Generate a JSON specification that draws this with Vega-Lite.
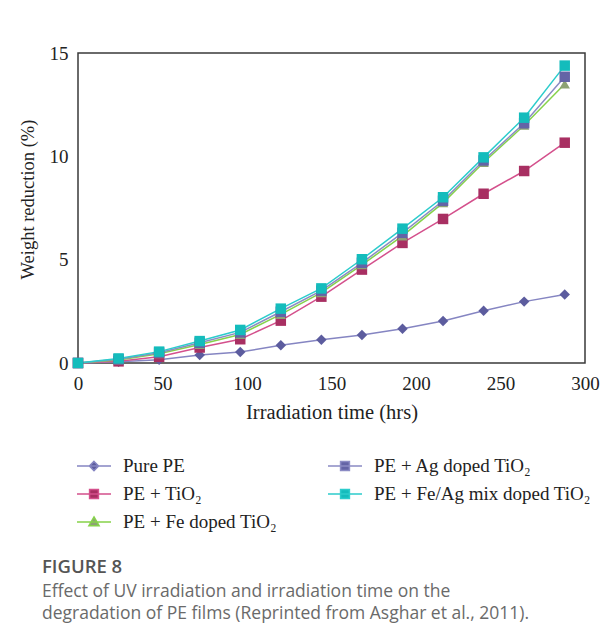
{
  "$schema": "https://vega.github.io/schema/vega-lite/v6.json",
  "width": 507,
  "height": 310,
  "autosize": {"type": "none"},
  "padding": {"left": 78, "top": 53, "right": 29, "bottom": 280},
  "background": "white",
  "config": {
    "view": {"stroke": "#3a3a3a", "strokeWidth": 1.5},
    "font": "Liberation Serif",
    "legend": {
      "orient": "none",
      "legendX": -2,
      "legendY": 395,
      "columns": 2,
      "padding": 0,
      "symbolSize": 1156,
      "symbolStrokeWidth": 1.5,
      "symbolOpacity": 1,
      "labelFont": "Liberation Serif",
      "labelFontSize": 19,
      "labelColor": "#222222",
      "labelOffset": 11,
      "labelLimit": 400,
      "columnPadding": 48,
      "rowPadding": -2
    }
  },
  "title": {
    "text": "FIGURE 8",
    "subtitle": ["Effect of UV irradiation and irradiation time on the", "degradation of PE films (Reprinted from Asghar et al., 2011)."],
    "orient": "bottom",
    "anchor": "start",
    "frame": "bounds",
    "offset": 26,
    "dx": 24,
    "font": "Open Sans",
    "fontSize": 18.5,
    "fontWeight": 600,
    "color": "#555555",
    "subtitleFont": "Open Sans",
    "subtitleFontSize": 17.5,
    "subtitleColor": "#6a6a6a",
    "subtitleLineHeight": 22.5,
    "subtitlePadding": 6
  },
  "data": {
    "values": [
      {"series": "Pure PE", "t": 0, "w": 0},
      {"series": "Pure PE", "t": 24, "w": 0.06},
      {"series": "Pure PE", "t": 48, "w": 0.16},
      {"series": "Pure PE", "t": 72, "w": 0.39},
      {"series": "Pure PE", "t": 96, "w": 0.53},
      {"series": "Pure PE", "t": 120, "w": 0.86},
      {"series": "Pure PE", "t": 144, "w": 1.13},
      {"series": "Pure PE", "t": 168, "w": 1.35},
      {"series": "Pure PE", "t": 192, "w": 1.66},
      {"series": "Pure PE", "t": 216, "w": 2.03},
      {"series": "Pure PE", "t": 240, "w": 2.53},
      {"series": "Pure PE", "t": 264, "w": 2.97},
      {"series": "Pure PE", "t": 288, "w": 3.32},
      {"series": "PE + TiO₂", "t": 0, "w": 0},
      {"series": "PE + TiO₂", "t": 24, "w": 0.08},
      {"series": "PE + TiO₂", "t": 48, "w": 0.3},
      {"series": "PE + TiO₂", "t": 72, "w": 0.75},
      {"series": "PE + TiO₂", "t": 96, "w": 1.15},
      {"series": "PE + TiO₂", "t": 120, "w": 2.05},
      {"series": "PE + TiO₂", "t": 144, "w": 3.21},
      {"series": "PE + TiO₂", "t": 168, "w": 4.52},
      {"series": "PE + TiO₂", "t": 192, "w": 5.81},
      {"series": "PE + TiO₂", "t": 216, "w": 6.97},
      {"series": "PE + TiO₂", "t": 240, "w": 8.19},
      {"series": "PE + TiO₂", "t": 264, "w": 9.29},
      {"series": "PE + TiO₂", "t": 288, "w": 10.66},
      {"series": "PE + Fe doped TiO₂", "t": 0, "w": 0},
      {"series": "PE + Fe doped TiO₂", "t": 24, "w": 0.15},
      {"series": "PE + Fe doped TiO₂", "t": 48, "w": 0.45},
      {"series": "PE + Fe doped TiO₂", "t": 72, "w": 0.9},
      {"series": "PE + Fe doped TiO₂", "t": 96, "w": 1.38},
      {"series": "PE + Fe doped TiO₂", "t": 120, "w": 2.35},
      {"series": "PE + Fe doped TiO₂", "t": 144, "w": 3.4},
      {"series": "PE + Fe doped TiO₂", "t": 168, "w": 4.75},
      {"series": "PE + Fe doped TiO₂", "t": 192, "w": 6.15},
      {"series": "PE + Fe doped TiO₂", "t": 216, "w": 7.75},
      {"series": "PE + Fe doped TiO₂", "t": 240, "w": 9.7},
      {"series": "PE + Fe doped TiO₂", "t": 264, "w": 11.5},
      {"series": "PE + Fe doped TiO₂", "t": 288, "w": 13.5},
      {"series": "PE + Ag doped TiO₂", "t": 0, "w": 0},
      {"series": "PE + Ag doped TiO₂", "t": 24, "w": 0.18},
      {"series": "PE + Ag doped TiO₂", "t": 48, "w": 0.5},
      {"series": "PE + Ag doped TiO₂", "t": 72, "w": 0.98},
      {"series": "PE + Ag doped TiO₂", "t": 96, "w": 1.48},
      {"series": "PE + Ag doped TiO₂", "t": 120, "w": 2.48},
      {"series": "PE + Ag doped TiO₂", "t": 144, "w": 3.5},
      {"series": "PE + Ag doped TiO₂", "t": 168, "w": 4.85},
      {"series": "PE + Ag doped TiO₂", "t": 192, "w": 6.3},
      {"series": "PE + Ag doped TiO₂", "t": 216, "w": 7.85},
      {"series": "PE + Ag doped TiO₂", "t": 240, "w": 9.8},
      {"series": "PE + Ag doped TiO₂", "t": 264, "w": 11.6},
      {"series": "PE + Ag doped TiO₂", "t": 288, "w": 13.85},
      {"series": "PE + Fe/Ag mix doped TiO₂", "t": 0, "w": 0},
      {"series": "PE + Fe/Ag mix doped TiO₂", "t": 24, "w": 0.22},
      {"series": "PE + Fe/Ag mix doped TiO₂", "t": 48, "w": 0.55},
      {"series": "PE + Fe/Ag mix doped TiO₂", "t": 72, "w": 1.06},
      {"series": "PE + Fe/Ag mix doped TiO₂", "t": 96, "w": 1.6},
      {"series": "PE + Fe/Ag mix doped TiO₂", "t": 120, "w": 2.63},
      {"series": "PE + Fe/Ag mix doped TiO₂", "t": 144, "w": 3.61},
      {"series": "PE + Fe/Ag mix doped TiO₂", "t": 168, "w": 5.02},
      {"series": "PE + Fe/Ag mix doped TiO₂", "t": 192, "w": 6.5},
      {"series": "PE + Fe/Ag mix doped TiO₂", "t": 216, "w": 8.02},
      {"series": "PE + Fe/Ag mix doped TiO₂", "t": 240, "w": 9.95},
      {"series": "PE + Fe/Ag mix doped TiO₂", "t": 264, "w": 11.87},
      {"series": "PE + Fe/Ag mix doped TiO₂", "t": 288, "w": 14.39}
    ]
  },
  "encoding": {
    "x": {
      "field": "t", "type": "quantitative",
      "scale": {"domain": [0, 300], "nice": false, "zero": false},
      "axis": {
        "title": "Irradiation time (hrs)",
        "values": [0, 50, 100, 150, 200, 250, 300],
        "ticks": false, "domain": false, "grid": false,
        "labelFlush": false, "labelOverlap": false,
        "labelFont": "Liberation Serif", "labelFontSize": 19, "labelColor": "#222222",
        "labelPadding": 11,
        "titleFont": "Liberation Serif", "titleFontSize": 20.5, "titleFontWeight": "normal", "titleColor": "#222222",
        "titlePadding": 9
      }
    },
    "y": {
      "field": "w", "type": "quantitative",
      "scale": {"domain": [0, 15], "nice": false},
      "axis": {
        "title": "Weight reduction (%)",
        "values": [0, 5, 10, 15],
        "ticks": false, "domain": false, "grid": false,
        "labelFlush": false, "labelOverlap": false,
        "labelFont": "Liberation Serif", "labelFontSize": 19, "labelColor": "#222222",
        "labelPadding": 10,
        "titleFont": "Liberation Serif", "titleFontSize": 18.5, "titleFontWeight": "normal", "titleColor": "#222222",
        "titlePadding": 12,
        "titleY": 146
      }
    }
  },
  "layer": [
    {
      "mark": {"type": "line", "strokeWidth": 1.5},
      "encoding": {
        "stroke": {
          "field": "series", "type": "nominal",
          "scale": {
            "domain": ["Pure PE", "PE + TiO₂", "PE + Fe doped TiO₂", "PE + Ag doped TiO₂", "PE + Fe/Ag mix doped TiO₂"],
            "range": ["#8585c2", "#d4508c", "#86d24a", "#8b8bc4", "#2ccccc"]
          },
          "legend": null
        }
      }
    },
    {
      "mark": {"type": "point", "filled": true, "opacity": 1, "size": 110},
      "encoding": {
        "fill": {
          "field": "series", "type": "nominal",
          "scale": {
            "domain": ["Pure PE", "PE + TiO₂", "PE + Fe doped TiO₂", "PE + Ag doped TiO₂", "PE + Fe/Ag mix doped TiO₂"],
            "range": ["#5c5c9e", "#a82f62", "#8da274", "#6464a6", "#14bcbc"]
          },
          "legend": null
        },
        "shape": {
          "field": "series", "type": "nominal",
          "scale": {
            "domain": ["Pure PE", "PE + TiO₂", "PE + Fe doped TiO₂", "PE + Ag doped TiO₂", "PE + Fe/Ag mix doped TiO₂"],
            "range": ["diamond", "square", "triangle-up", "square", "square"]
          },
          "legend": null
        }
      }
    },
    {
      "mark": {"type": "point", "filled": true, "opacity": 0},
      "encoding": {
        "fill": {
          "field": "series", "type": "nominal",
          "scale": {
            "domain": ["Pure PE", "PE + TiO₂", "PE + Fe doped TiO₂", "PE + Ag doped TiO₂", "PE + Fe/Ag mix doped TiO₂"],
            "range": ["#5c5c9e", "#a82f62", "#8da274", "#6464a6", "#14bcbc"]
          },
          "legend": {"title": null}
        },
        "stroke": {
          "field": "series", "type": "nominal",
          "scale": {
            "domain": ["Pure PE", "PE + TiO₂", "PE + Fe doped TiO₂", "PE + Ag doped TiO₂", "PE + Fe/Ag mix doped TiO₂"],
            "range": ["#8585c2", "#d4508c", "#86d24a", "#8b8bc4", "#2ccccc"]
          },
          "legend": {"title": null}
        },
        "shape": {
          "field": "series", "type": "nominal",
          "scale": {
            "domain": ["Pure PE", "PE + TiO₂", "PE + Fe doped TiO₂", "PE + Ag doped TiO₂", "PE + Fe/Ag mix doped TiO₂"],
            "range": [
              "M-1,0H1M0,-0.27L0.27,0L0,0.27L-0.27,0Z",
              "M-1,0H1M-0.26,-0.26H0.26V0.26H-0.26Z",
              "M-1,0H1M0,-0.3L0.3,0.22H-0.3Z",
              "M-1,0H1M-0.26,-0.26H0.26V0.26H-0.26Z",
              "M-1,0H1M-0.26,-0.26H0.26V0.26H-0.26Z"
            ]
          },
          "legend": {"title": null}
        }
      }
    }
  ],
  "resolve": {"scale": {"shape": "independent", "fill": "independent", "stroke": "independent"}}
}
